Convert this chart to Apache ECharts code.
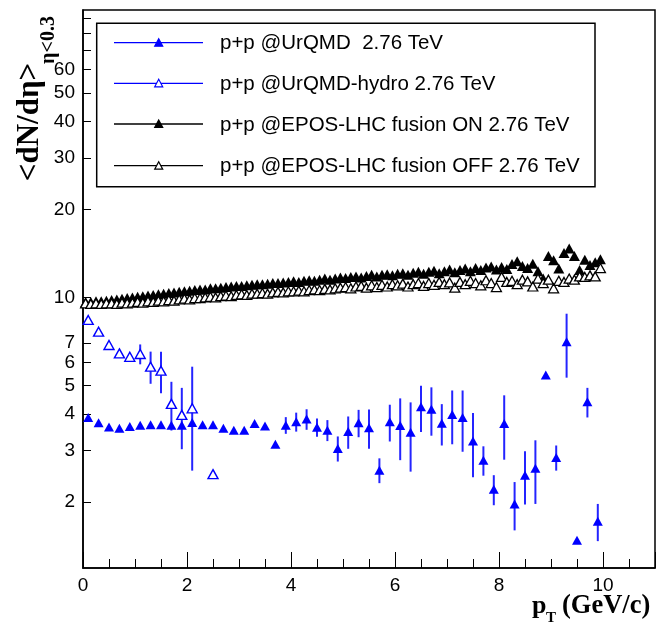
<!DOCTYPE html>
<html><head><meta charset="utf-8">
<script src="https://cdn.jsdelivr.net/npm/echarts@6/dist/echarts.min.js"></script>
<style>html,body{margin:0;padding:0;background:#fff}#c{width:656px;height:629px}</style>
</head><body><div id="c"></div>
<script>
// ---- data ----
const ptBlue = [0.1,0.3,0.5,0.7,0.9,1.1,1.3,1.5,1.7,1.9,2.1,2.3,2.5,2.7,2.9,3.1,3.3,3.5,3.7,3.9,
  4.1,4.3,4.5,4.7,4.9,5.1,5.3,5.5,5.7,5.9,6.1,6.3,6.5,6.7,6.9,7.1,7.3,7.5,7.7,7.9,
  8.1,8.3,8.5,8.7,8.9,9.1,9.3,9.5,9.7,9.9];
const urqmd = [3.89,3.73,3.61,3.57,3.62,3.66,3.67,3.67,3.66,3.66,
  3.74,3.67,3.67,3.57,3.52,3.52,3.71,3.64,3.15,3.66,
  3.76,3.84,3.60,3.52,3.05,3.48,3.73,3.59,2.57,3.76,
  3.65,3.46,4.23,4.15,3.72,3.98,3.89,3.23,2.78,2.21,
  3.71,1.97,2.47,2.61,5.43,2.84,7.06,1.48,4.40,1.72];
const urqmdErr = [0,0,0,0,0,0,0,0,0,0,
  0,0,0,0,0,0,0,0,0,0.24,
  0.28,0.31,0.26,0.29,0.30,0.44,0.40,0.55,0.25,0.54,
  0.87,0.92,0.76,0.78,0.60,0.83,0.92,0.80,0.32,0.26,
  0.92,0.37,0.51,0.64,0,0.28,1.74,0,0.51,0.25];
const ptHydro = [0.1,0.3,0.5,0.7,0.9,1.1,1.3,1.5,1.7,1.9,2.1,2.5];
const hydro = [8.38,7.64,6.88,6.44,6.27,6.41,5.80,5.62,4.33,3.97,4.18,2.49];
const hydroErr = [0,0,0,0,0,0.5,0.73,0.91,0.82,0.94,1.62,0];
const ptEpos = [0.05,0.15,0.25,0.35,0.45,0.55,0.65,0.75,0.85,0.95,
  1.05,1.15,1.25,1.35,1.45,1.55,1.65,1.75,1.85,1.95,
  2.05,2.15,2.25,2.35,2.45,2.55,2.65,2.75,2.85,2.95,
  3.05,3.15,3.25,3.35,3.45,3.55,3.65,3.75,3.85,3.95,
  4.05,4.15,4.25,4.35,4.45,4.55,4.65,4.75,4.85,4.95,
  5.05,5.15,5.25,5.35,5.45,5.55,5.65,5.75,5.85,5.95,
  6.05,6.15,6.25,6.35,6.45,6.55,6.65,6.75,6.85,6.95,
  7.05,7.15,7.25,7.35,7.45,7.55,7.65,7.75,7.85,7.95,
  8.05,8.15,8.25,8.35,8.45,8.55,8.65,8.75,8.85,8.95,
  9.05,9.15,9.25,9.35,9.45,9.55,9.65,9.75,9.85,9.95];
const eposOn = [9.65,9.65,9.7,9.7,9.75,9.8,9.85,9.9,9.95,10.0,
  10.05,10.1,10.15,10.2,10.25,10.3,10.35,10.4,10.45,10.5,
  10.55,10.6,10.65,10.65,10.75,10.75,10.8,10.85,10.9,10.95,
  10.95,11.0,11.05,11.1,11.1,11.15,11.2,11.2,11.25,11.3,
  11.35,11.3,11.4,11.45,11.4,11.5,11.6,11.5,11.6,11.7,
  11.65,11.75,11.8,11.7,11.85,11.95,11.8,11.95,12.0,11.9,
  12.05,12.1,11.95,12.15,12.25,12.05,12.25,12.35,12.1,12.3,
  12.45,12.2,12.4,12.55,12.3,12.6,12.4,12.65,12.75,12.45,
  12.7,12.5,13.0,13.3,12.8,12.6,13.05,12.3,11.6,13.85,
  13.4,12.55,14.2,14.7,13.85,12.4,13.45,12.9,13.2,13.5];
const eposOff = [9.55,9.5,9.55,9.5,9.55,9.55,9.5,9.6,9.55,9.6,
  9.65,9.6,9.7,9.65,9.75,9.7,9.8,9.75,9.85,9.9,
  9.85,9.95,9.95,10.0,10.05,10.0,10.1,10.15,10.1,10.2,
  10.25,10.2,10.3,10.3,10.35,10.3,10.4,10.45,10.4,10.5,
  10.5,10.55,10.5,10.6,10.65,10.6,10.7,10.65,10.75,10.8,
  10.85,10.75,10.9,10.95,10.8,11.0,10.85,11.05,10.9,11.1,
  11.0,11.15,10.9,11.1,11.2,10.95,11.2,11.05,11.3,11.1,
  11.25,10.8,11.3,11.1,11.4,11.2,11.0,11.45,11.2,10.85,
  11.75,11.3,11.4,11.1,11.5,11.35,10.9,11.6,11.2,11.5,
  10.75,11.4,11.3,11.6,11.5,11.8,11.75,11.9,11.8,12.6];
const yLabelValues = [2,3,4,5,6,7,10,20,30,40,50,60];
const yTickValues = [2,3,4,5,6,7,10,20,30,40,50,60,70,80,90];
const legendNames = ['p+p @UrQMD  2.76 TeV','p+p @UrQMD-hydro 2.76 TeV',
  'p+p @EPOS-LHC fusion ON 2.76 TeV','p+p @EPOS-LHC fusion OFF 2.76 TeV'];

// ---- chart ----
const BLUE = '#0000ff';
const pair = (xs, ys) => xs.map((x, i) => [x, ys[i]]);
const triple = (xs, ys, es) => xs.map((x, i) => [x, ys[i], es[i]]).filter(d => d[2] > 0);
function errBar(params, api) {
  const x = api.value(0), y = api.value(1), e = api.value(2);
  const p1 = api.coord([x, y + e]), p2 = api.coord([x, y - e]);
  return {type: 'line', shape: {x1: p1[0], y1: p1[1], x2: p2[0], y2: p2[1]},
    style: {stroke: '#2424ff', lineWidth: 2}};
}
const labelFont = {fontSize: 19, color: '#000', fontFamily: 'Liberation Sans'};

// legend graphics
const lgX0 = 114, lgX1 = 203, lgM = 158.7, lgT = 220;
const lgRows = [42.7, 83.3, 124, 165.7];
const lgColors = [BLUE, BLUE, '#000', '#000'];
const lgFilled = [true, false, true, false];
const graphics = [{type: 'rect', shape: {x: 96.7, y: 23.3, width: 498.3, height: 163.4},
  style: {fill: '#fff', stroke: '#000', lineWidth: 1.5}, z: 10}];
lgRows.forEach((cy, i) => {
  graphics.push({type: 'line', shape: {x1: lgX0, y1: cy, x2: lgX1, y2: cy},
    style: {stroke: lgColors[i], lineWidth: 1.3}, z: 11});
  graphics.push({type: 'polygon', shape: {points: [[lgM - 4, cy + 3.5], [lgM + 4, cy + 3.5], [lgM, cy - 4]]},
    style: {fill: lgFilled[i] ? lgColors[i] : '#fff', stroke: lgColors[i], lineWidth: 1.2}, z: 12});
  graphics.push({type: 'text', x: lgT, y: cy + 1,
    style: {text: legendNames[i], fontSize: 20.5, fontFamily: 'Liberation Sans', fill: '#000',
      align: 'left', verticalAlign: 'middle'}, z: 12});
});
// axis titles
graphics.push({type: 'text', x: 30, y: 122, rotation: Math.PI / 2,
  style: {text: '<dN/d\u03b7>', fontSize: 31, fontWeight: 'bold', fontFamily: 'Liberation Serif',
    fill: '#000', align: 'center', verticalAlign: 'middle'}});
graphics.push({type: 'text', x: 49, y: 40, rotation: Math.PI / 2,
  style: {text: '\u03b7<0.3', fontSize: 20, fontWeight: 'bold', fontFamily: 'Liberation Serif',
    fill: '#000', align: 'center', verticalAlign: 'middle'}});
graphics.push({type: 'text', x: 532, y: 606,
  style: {text: 'p', fontSize: 26, fontWeight: 'bold', fontFamily: 'Liberation Serif',
    fill: '#000', align: 'left', verticalAlign: 'middle'}});
graphics.push({type: 'text', x: 546, y: 618,
  style: {text: 'T', fontSize: 15, fontWeight: 'bold', fontFamily: 'Liberation Serif',
    fill: '#000', align: 'left', verticalAlign: 'middle'}});
graphics.push({type: 'text', x: 562, y: 606,
  style: {text: '(GeV/c)', fontSize: 26.5, fontWeight: 'bold', fontFamily: 'Liberation Serif',
    fill: '#000', align: 'left', verticalAlign: 'middle'}});

const chart = echarts.init(document.getElementById('c'), null, {renderer: 'canvas'});
chart.setOption({
  animation: false,
  backgroundColor: '#fff',
  grid: {left: 83, right: 1, top: 10, bottom: 61, show: true, borderColor: '#000', borderWidth: 1.5},
  xAxis: {type: 'value', min: 0, max: 11, interval: 2,
    axisLine: {show: true, onZero: false, lineStyle: {color: '#000', width: 1.5}},
    axisTick: {show: true, inside: true, length: 16, lineStyle: {color: '#000', width: 1}},
    minorTick: {show: true, splitNumber: 4, length: 9, lineStyle: {color: '#000', width: 1}},
    axisLabel: Object.assign({margin: 8, showMaxLabel: false}, labelFont),
    splitLine: {show: false}, minorSplitLine: {show: false}},
  yAxis: {type: 'log', logBase: 10, min: 1.19, max: 96,
    axisLine: {show: true, lineStyle: {color: '#000', width: 1.5}},
    axisTick: {show: true, inside: true, length: 8, customValues: yTickValues, lineStyle: {color: '#000', width: 1}},
    axisLabel: Object.assign({margin: 8, customValues: yLabelValues}, labelFont),
    splitLine: {show: false}, minorTick: {show: false}},
  graphic: graphics,
  series: [
    {name: legendNames[2], type: 'scatter', data: pair(ptEpos, eposOn), symbol: 'triangle',
      symbolSize: [11, 10], itemStyle: {color: '#000', opacity: 1}, z: 2},
    {name: legendNames[3], type: 'scatter', data: pair(ptEpos, eposOff), symbol: 'triangle',
      symbolSize: [10, 9], itemStyle: {color: '#fff', borderColor: '#000', borderWidth: 1.3, opacity: 1}, z: 3},
    {type: 'custom', data: triple(ptBlue, urqmd, urqmdErr), renderItem: errBar,
      encode: {x: 0, y: 1}, z: 4},
    {type: 'custom', data: triple(ptHydro, hydro, hydroErr), renderItem: errBar,
      encode: {x: 0, y: 1}, z: 4},
    {name: legendNames[0], type: 'scatter', data: pair(ptBlue, urqmd), symbol: 'triangle',
      symbolSize: [10, 9], itemStyle: {color: BLUE, opacity: 1}, z: 5},
    {name: legendNames[1], type: 'scatter', data: pair(ptHydro, hydro), symbol: 'triangle',
      symbolSize: [10, 9], itemStyle: {color: '#fff', borderColor: BLUE, borderWidth: 1.4, opacity: 1}, z: 5}
  ]
});
</script></body></html>
